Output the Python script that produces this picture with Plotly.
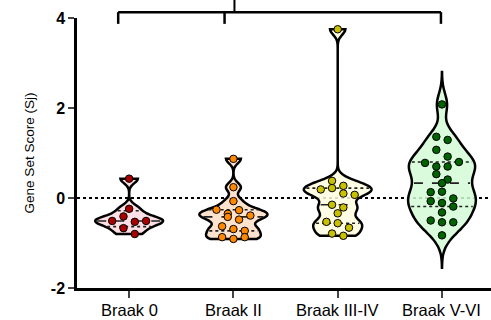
import numpy as np
import plotly.graph_objects as go

# ---------------- data ----------------
categories = ["Braak 0", "Braak II", "Braak III-IV", "Braak V-VI"]
braak_0 = [0.43, -0.24, -0.51, -0.41, -0.53, -0.51, -0.67, -0.80]
braak_ii = [0.87, 0.24, -0.07, -0.26, -0.35, -0.27, -0.39, -0.42, -0.48,
            -0.63, -0.69, -0.73, -0.87, -0.91, -0.87]
braak_iii_iv = [3.75, 0.38, 0.27, 0.19, 0.22, 0.10, 0.07, -0.15, -0.21,
                -0.34, -0.53, -0.56, -0.66, -0.79, -0.84]
braak_v_vi = [2.08, 1.36, 1.29, 1.07, 0.92, 0.78, 0.70, 0.70, 0.80, 0.53,
              0.41, 0.33, 0.13, 0.14, -0.01, -0.07, -0.11, -0.19, -0.32,
              -0.50, -0.54, -0.54, -0.83]
series = [braak_0, braak_ii, braak_iii_iv, braak_v_vi]
y_tick_vals = [-2, 0, 2, 4]
y_tick_text = ["-2", "0", "2", "4"]

# ---------------- styles ----------------
fill_colors = ["rgba(252,218,224,0.85)", "rgba(253,222,196,0.85)",
               "rgba(255,253,222,0.85)", "rgba(212,250,214,0.85)"]
point_colors = ["#a80000", "#ff8800", "#c9c000", "#006400"]
bandwidths = [0.10, 0.10, 0.12, 0.24]
soft_span = [False, False, False, True]   # V-VI extends beyond data
VW = 0.65          # violin width (category units)
X_RANGE = [-0.5, 3.47]
Y_RANGE = [-2, 4]
M_L, M_R, M_T, M_B = 77, 0, 18, 32
W, H = 491, 320
FONT = "Arial, Liberation Sans, sans-serif"

px_per_x = (W - M_L - M_R) / (X_RANGE[1] - X_RANGE[0])
px_per_y = (H - M_T - M_B) / (Y_RANGE[1] - Y_RANGE[0])


def kde(vals, grid, bw):
    v = np.asarray(vals)[None, :]
    g = np.asarray(grid)[:, None]
    return np.exp(-0.5 * ((g - v) / bw) ** 2).sum(axis=1) / (len(vals) * bw * np.sqrt(2 * np.pi))


def swarm_offsets(vals, diam_px=7.0, step_px=11.3):
    """Row-binned beeswarm: values closer than a dot diameter share a row."""
    vals = np.asarray(vals, dtype=float)
    order = np.argsort(-vals, kind="stable")
    bin_h = diam_px / px_per_y
    offs = np.zeros(len(vals))
    rows, cur = [], [order[0]]
    for idx in order[1:]:
        if vals[cur[0]] - vals[idx] < bin_h:
            cur.append(idx)
        else:
            rows.append(cur)
            cur = [idx]
    rows.append(cur)
    for row in rows:
        k = len(row)
        for j, idx in enumerate(sorted(row)):
            offs[idx] = (j - (k - 1) / 2) * step_px / px_per_x
    return offs


def span_of(i):
    vals, bw = series[i], bandwidths[i]
    lo, hi = min(vals), max(vals)
    if soft_span[i]:
        lo, hi = lo - 3 * bw, hi + 3 * bw
    return lo, hi


fig = go.Figure()

for i, vals in enumerate(series):
    fig.add_trace(go.Violin(
        x=[i] * len(vals), y=vals, name=categories[i],
        bandwidth=bandwidths[i], spanmode="manual", span=list(span_of(i)),
        scalemode="width", width=VW, points=False,
        fillcolor=fill_colors[i], line=dict(color="black", width=2.5),
        box_visible=False, meanline_visible=False, showlegend=False,
        hoveron="violins",
    ))

# quartile lines (through the violin's own density width)
for i, vals in enumerate(series):
    bw = bandwidths[i]
    lo, hi = span_of(i)
    n = int(np.ceil((hi - lo) / (bw / 3)))
    grid = np.linspace(lo, hi, n + 1)
    dmax = kde(vals, grid, bw).max()
    q = np.percentile(vals, [25, 50, 75], method="weibull")
    for qv, dash in zip(q, ["dot", "dash", "dot"]):
        hw = kde(vals, [qv], bw)[0] / dmax * VW / 2 - 0.02
        fig.add_trace(go.Scatter(
            x=[i - hw, i + hw], y=[qv, qv], mode="lines",
            line=dict(color="#222222", width=1.6, dash=dash),
            showlegend=False, hoverinfo="skip",
        ))

# points
for i, vals in enumerate(series):
    offs = swarm_offsets(vals)
    fig.add_trace(go.Scatter(
        x=i + offs, y=vals, mode="markers",
        marker=dict(size=7.5, color=point_colors[i],
                    line=dict(color="black", width=1)),
        showlegend=False, cliponaxis=False,
    ))

# dotted zero line
fig.add_shape(type="line", xref="paper", x0=0, x1=1, yref="y", y0=0, y1=0,
              line=dict(color="black", width=2, dash="dot"), layer="below")

# significance bracket (clipped at top of the picture)
def xp(xv):
    return (xv - X_RANGE[0]) / (X_RANGE[1] - X_RANGE[0])

def yp(yv):
    return (yv - Y_RANGE[0]) / (Y_RANGE[1] - Y_RANGE[0])

br_left, br_mid, br_right, br_top, br_bot = -0.105, 0.915, 2.99, 4.13, 3.87
bl = dict(color="black", width=2.5)
fig.add_shape(type="line", xref="paper", yref="paper", x0=xp(br_left), x1=xp(br_right),
              y0=yp(br_top), y1=yp(br_top), line=bl)
for xb in (br_left, br_mid, br_right):
    fig.add_shape(type="line", xref="paper", yref="paper", x0=xp(xb), x1=xp(xb),
                  y0=yp(br_top), y1=yp(br_bot), line=bl)
fig.add_shape(type="line", xref="paper", yref="paper", x0=xp(1.01), x1=xp(1.01),
              y0=yp(br_top), y1=yp(4.45), line=dict(color="black", width=2))

# category labels placed as text just under the tick marks
label_y = -21.5 / (H - M_T - M_B)
for i, cat in enumerate(categories):
    fig.add_annotation(x=i, xref="x", y=label_y, yref="paper", text=cat,
                       showarrow=False, xanchor="center", yanchor="middle",
                       font=dict(size=16.5, family=FONT, color="black"))

fig.update_layout(
    width=W, height=H, margin=dict(l=M_L, r=M_R, t=M_T, b=M_B, autoexpand=False),
    paper_bgcolor="white", plot_bgcolor="white",
    violinmode="overlay", showlegend=False,
    font=dict(family=FONT, color="black"),
    xaxis=dict(range=X_RANGE, tickvals=list(range(len(categories))),
               showticklabels=False, ticks="outside", ticklen=7, tickwidth=2,
               showline=True, linewidth=2.5, linecolor="black",
               showgrid=False, zeroline=False, automargin=False),
    yaxis=dict(range=Y_RANGE, tickvals=y_tick_vals,
               ticktext=["<b>%s</b>" % t for t in y_tick_text],
               ticks="outside", ticklen=6, tickwidth=2,
               showline=True, linewidth=2.5, linecolor="black",
               showgrid=False, zeroline=False, automargin=False,
               tickfont=dict(size=16, family=FONT, color="black"),
               title=dict(text="Gene Set Score (Sj)", standoff=14,
                          font=dict(size=13.5, family=FONT, color="black"))),
)

fig.write_html("out.html", post_script="document.body.style.margin='0';",
               config={"displayModeBar": False})
